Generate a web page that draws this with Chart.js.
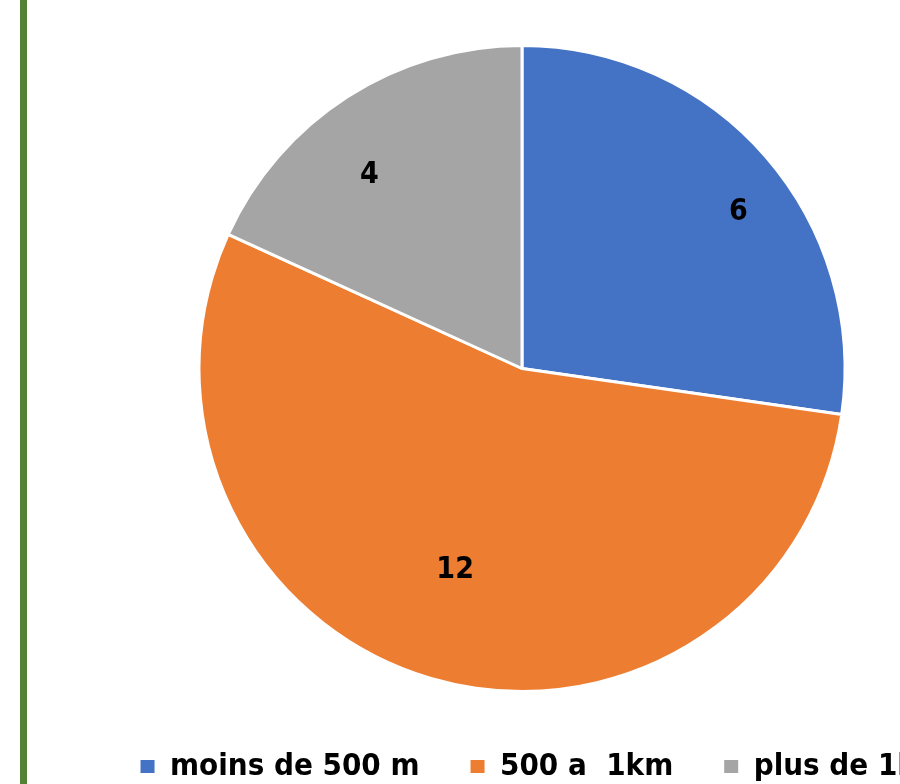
<!DOCTYPE html>
<html>
<head>
<meta charset="utf-8">
<script src="https://cdn.jsdelivr.net/npm/chart.js@4/dist/chart.umd.min.js"></script>
<style>
  html, body { margin: 0; padding: 0; background: #ffffff; overflow: hidden; width: 900px; height: 784px; }
  #wrap { position: absolute; left: 0; top: 0; width: 1100px; height: 792px; }
  #bar { position: absolute; left: 20px; top: 0; width: 7px; height: 784px; background: #548235; }
</style>
</head>
<body>
<div id="wrap"><canvas id="c" width="1100" height="792"></canvas></div>
<div id="bar"></div>
<script>
const categories = ['moins de 500 m', '500 a  1km', 'plus de 1km'];
const values = [6, 12, 4];
const colors = ['#4472C4', '#ED7D31', '#A5A5A5'];

const LABEL_FONT = "'DejaVu Sans Condensed', 'DejaVu Sans', sans-serif";
const LEGEND_FONT = "'DejaVu Sans Condensed', 'DejaVu Sans', sans-serif";

// shift the pie's plotting area horizontally relative to the legend
const areaShift = {
  id: 'areaShift',
  afterLayout(chart, args, opts) {
    const a = chart.chartArea;
    a.left += opts.dx;
    a.right += opts.dx;
  }
};

const sliceLabels = {
  id: 'sliceLabels',
  afterDatasetsDraw(chart, args, opts) {
    const meta = chart.getDatasetMeta(0);
    const ds = chart.data.datasets[0];
    const ctx = chart.ctx;
    ctx.save();
    ctx.font = 'bold ' + opts.size + 'px ' + LABEL_FONT;
    ctx.fillStyle = '#000000';
    ctx.textAlign = 'center';
    ctx.textBaseline = 'middle';
    meta.data.forEach((arc, i) => {
      const p = arc.getProps(['x', 'y', 'startAngle', 'endAngle', 'outerRadius'], true);
      const mid = (p.startAngle + p.endAngle) / 2 + (opts.angleOffset[i] || 0) * Math.PI / 180;
      const r = p.outerRadius * opts.radial[i];
      ctx.fillText(String(ds.data[i]), p.x + Math.cos(mid) * r, p.y + Math.sin(mid) * r);
    });
    ctx.restore();
  }
};

new Chart(document.getElementById('c'), {
  type: 'pie',
  data: {
    labels: categories,
    datasets: [{
      data: values,
      backgroundColor: colors,
      borderColor: '#ffffff',
      borderWidth: 3,
      radius: 323
    }]
  },
  options: {
    responsive: false,
    animation: false,
    layout: { padding: { left: 0, right: 14.5, top: 37, bottom: 0 } },
    plugins: {
      tooltip: { enabled: false },
      legend: {
        position: 'bottom',
        labels: {
          boxWidth: 14,
          boxHeight: 13,
          padding: 51,
          color: '#000000',
          font: { family: LEGEND_FONT, size: 31, weight: 'bold' },
          generateLabels(chart) {
            const items = Chart.overrides.pie.plugins.legend.labels.generateLabels(chart);
            return items.map(it => Object.assign(it, { lineWidth: 0, strokeStyle: it.fillStyle }));
          }
        }
      },
      areaShift: { dx: -20.75 },
      sliceLabels: {
        size: 30,
        radial: [0.826, 0.657, 0.763],
        angleOffset: [5.1, 2.0, -5.5]
      }
    }
  },
  plugins: [areaShift, sliceLabels]
});
</script>
</body>
</html>
